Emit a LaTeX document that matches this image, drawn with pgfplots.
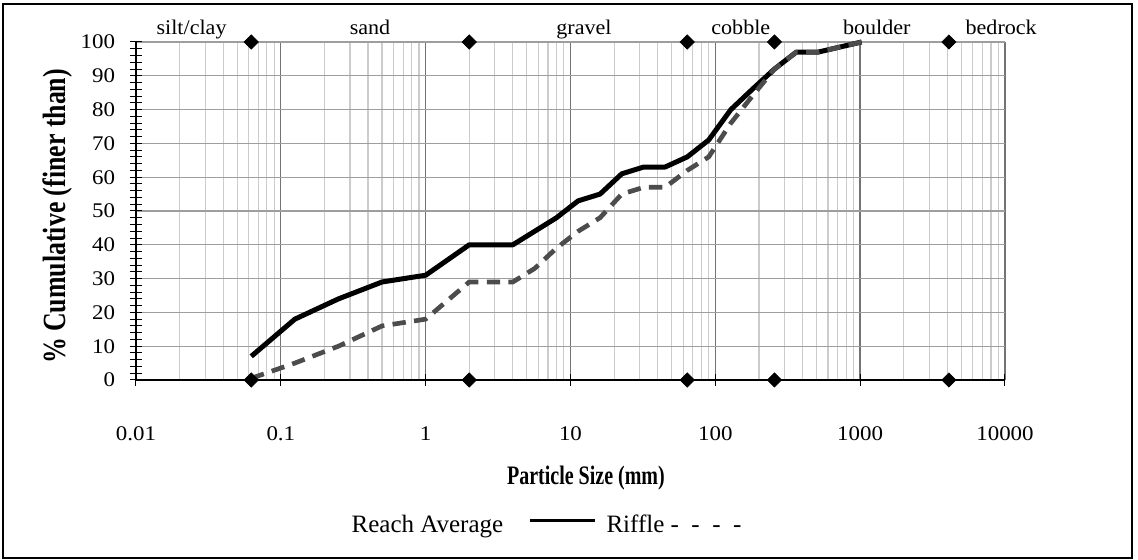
\documentclass[border=0pt]{standalone}
\usepackage{pgfplots}
\pgfplotsset{compat=1.18}
\usepackage{pgfplotstable}
\usepackage{graphicx}
\usepackage{fontspec}
\setmainfont{Liberation Serif}

\newcommand{\tk}[1]{\scalebox{1.1}[1]{\fontsize{12.5}{14}\selectfont #1}}
\newcommand{\cat}[1]{\scalebox{1.06}[1]{\fontsize{12.5}{14}\selectfont #1}}

\pgfplotstableread{
size reach riffle
0.0625 7 0.5
0.125 18 5
0.25 24 10
0.5 29 16
1 31 18
2 40 29
4 40 29
5.66 44 33
8 48 39
11.3 53 44
16 55 48
22.6 61 55
32 63 57
45 63 57
64 66 62
90 71 66
128 80 76
180 86 84
256 92 92
362 97 97
512 97 97
1024 100 100
}\gsd

\pgfplotstableread{
x y
0.0625 0
2 0
64 0
256 0
4096 0
0.0625 100
2 100
64 100
256 100
4096 100
}\bounds

\begin{document}
\begin{tikzpicture}
\useasboundingbox (-81.6pt,-108pt) rectangle (601.2pt,228pt);
\begin{axis}[
  at={(0,0)}, anchor=south west,
  scale only axis, width=521.4pt, height=202.8pt,
  xmode=log, log basis x=10,
  xmin=0.01, xmax=10000, ymin=0, ymax=100,
  clip=false,
  axis x line*=bottom, axis y line*=left,
  axis line style={black, line width=1pt},
  xtick={0.01,0.1,1,10,100,1000,10000},
  xticklabels={\tk{0.01},\tk{0.1},\tk{1},\tk{10},\tk{100},\tk{1000},\tk{10000}},
  minor xtick={0.02,0.03,0.04,0.05,0.06,0.07,0.08,0.09,
    0.2,0.3,0.4,0.5,0.6,0.7,0.8,0.9,
    2,3,4,5,6,7,8,9,
    20,30,40,50,60,70,80,90,
    200,300,400,500,600,700,800,900,
    2000,3000,4000,5000,6000,7000,8000,9000},
  ytick={0,10,20,30,40,50,60,70,80,90,100},
  yticklabels={\tk{0},\tk{10},\tk{20},\tk{30},\tk{40},\tk{50},\tk{60},\tk{70},\tk{80},\tk{90},\tk{100}},
  extra y ticks={2,4,6,8,12,14,16,18,22,24,26,28,32,34,36,38,42,44,46,48,52,54,56,58,62,64,66,68,72,74,76,78,82,84,86,88,92,94,96,98},
  extra y tick labels={},
  extra y tick style={grid=none},
  tick align=center,
  major tick length=7.5pt, minor tick length=0pt,
  tick style={black, line width=0.6pt},
  xmajorgrids, ymajorgrids, xminorgrids,
  major x grid style={black!55, line width=0.8pt},
  major y grid style={black!38, line width=0.8pt},
  minor x grid style={black!20, line width=0.7pt},
  xticklabel style={anchor=base, inner sep=0pt, yshift=-32.4pt},
  yticklabel style={anchor=east, inner sep=0pt, xshift=-8.6pt},
  legend plot pos=right,
  legend columns=2,
  legend image code/.code={\draw[#1] (0pt,3pt) -- (39pt,3pt);},
  legend style={draw=none, fill=none, at={(0,0)}, anchor=west, xshift=129.4pt, yshift=-87.2pt,
    inner sep=0pt, outer sep=0pt, nodes={inner sep=0pt}, /tikz/column sep=0pt,
    font=\fontsize{15}{17}\selectfont},
]
\addplot[black, line width=3pt, line join=round, forget plot] table[x=size, y=reach]{\gsd};
\addplot[black!70, line width=2.8pt, dash pattern=on 8pt off 5pt, forget plot] table[x=size, y=riffle]{\gsd};
\addplot[only marks, mark=square*, mark size=3pt, mark options={rotate=45, black, fill=black}, forget plot] table[x=x, y=y]{\bounds};

\addlegendimage{black, line width=2pt}
\addlegendentry{Reach Average\hspace*{15pt}}
\addlegendimage{empty legend}
\addlegendentry{\hspace*{6pt}Riffle -\ \ -\ \ -\ \ -}

\node[anchor=base, inner sep=0pt] at ([yshift=4.2pt]axis cs:0.0242,100) {\cat{silt/clay}};
\node[anchor=base, inner sep=0pt] at ([yshift=4.2pt]axis cs:0.413,100) {\cat{sand}};
\node[anchor=base, inner sep=0pt] at ([yshift=4.2pt]axis cs:12.4,100) {\cat{gravel}};
\node[anchor=base, inner sep=0pt] at ([yshift=4.2pt]axis cs:150,100) {\cat{cobble}};
\node[anchor=base, inner sep=0pt] at ([yshift=4.2pt]axis cs:1303,100) {\cat{boulder}};
\node[anchor=base, inner sep=0pt] at ([yshift=4.2pt]axis cs:9414,100) {\cat{bedrock}};

\node[anchor=base, inner sep=0pt] at ([yshift=-63pt]rel axis cs:0.5178,0)
  {\scalebox{0.75}[1]{\fontsize{16}{18}\selectfont\bfseries Particle Size (mm)}};
\node[anchor=base, inner sep=0pt, rotate=90] at ([xshift=-42pt]rel axis cs:0,0.4837)
  {\scalebox{1}[1.25]{\fontsize{15.5}{17}\selectfont\bfseries \% Cumulative (finer than)}};
\end{axis}
\draw[line width=1.2pt] (-79.8pt,-106.8pt) rectangle (597.6pt,225.6pt);
\end{tikzpicture}
\end{document}
